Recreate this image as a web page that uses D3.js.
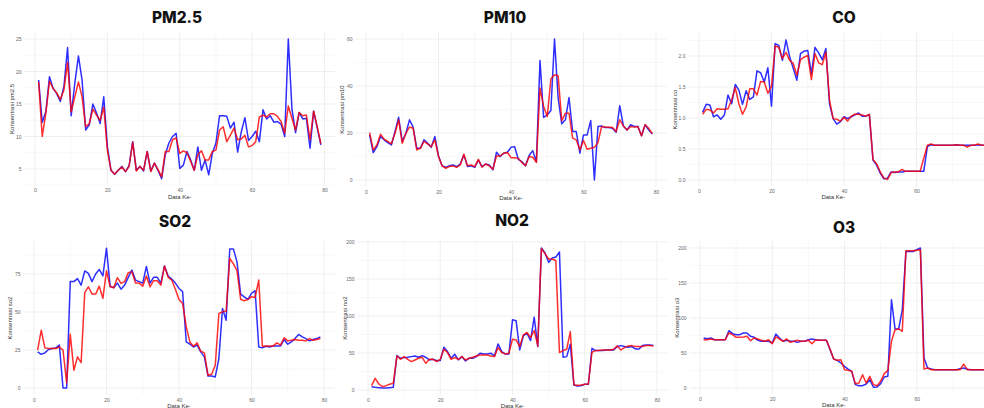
<!DOCTYPE html>
<html>
<head>
<meta charset="utf-8">
<script src="https://cdn.jsdelivr.net/npm/d3@7"></script>
<style>
  body { margin: 0; background: #fff; }
  svg { display: block; font-family: "Liberation Sans", Arial, sans-serif; }
</style>
</head>
<body>
<svg id="chart" width="984" height="408"></svg>
<script>
// data ke- (index of observation)
const dataKe = d3.range(1, 80);

// blue = aktual, red = prediksi
const pm25Aktual = [18.7,12.2,13.8,19.2,17.4,16.6,15.4,17.7,23.7,13.2, 18.2,22.4,18.7,11.0,11.8,15.0,13.6,12.0,16.1,8.4, 4.8,4.2,4.8,5.4,4.6,5.5,9.2,4.8,5.4,4.7, 7.7,4.7,5.9,4.8,3.5,7.2,9.0,10.0,10.5,5.1, 5.6,7.7,6.4,4.8,8.4,4.8,6.4,4.1,7.4,9.0, 13.2,13.2,13.1,11.3,12.2,7.6,10.7,12.9,9.4,10.0, 10.8,9.2,14.1,12.7,13.2,12.2,12.3,11.9,10.0,25.0, 14.3,10.6,13.7,12.7,12.8,8.2,13.9,11.3,8.7];
const pm25Prediksi = [18.4,10.0,13.6,18.5,17.4,16.7,15.7,17.2,21.4,13.8, 16.1,18.4,16.1,11.5,12.0,14.2,13.3,12.5,14.5,7.9, 4.8,4.2,4.8,5.3,4.6,5.4,9.1,4.7,5.4,4.8, 7.7,4.6,5.9,4.9,3.8,7.7,7.7,9.5,9.8,7.4, 7.8,7.5,6.2,4.8,7.2,7.8,6.4,6.4,7.7,7.9, 11.0,11.5,9.2,10.2,11.3,9.5,9.6,10.2,8.4,8.6, 9.2,13.0,13.3,13.0,13.5,13.5,13.1,12.3,10.5,14.7, 12.8,11.0,13.7,13.2,13.3,9.5,13.9,11.5,8.9];

const pm10Aktual = [19.2,11.7,14.2,18.5,17.1,15.9,14.9,20.6,26.7,16.4, 19.9,25.6,22.5,13.5,13.5,17.1,15.6,13.9,18.5,10.2, 6.1,5.4,6.1,6.4,5.7,6.8,10.7,5.7,6.0,5.4, 8.5,5.7,6.8,6.4,4.3,11.8,10.0,11.4,11.8,13.9, 14.2,8.8,7.8,6.1,10.4,12.5,7.8,50.9,26.6,27.7, 29.6,60.0,34.9,23.9,25.6,35.1,20.6,20.6,11.4,19.2, 19.2,25.3,0.0,22.8,23.0,22.3,22.3,22.0,20.3,31.6, 23.0,21.3,23.5,22.8,22.8,18.8,23.5,21.3,19.6];
const pm10Prediksi = [20.2,12.8,14.9,19.5,17.4,16.4,15.4,19.9,25.6,15.6, 19.9,22.5,22.0,12.8,13.5,16.4,15.4,14.2,17.1,10.0, 6.0,5.0,5.7,6.0,5.4,6.4,11.0,6.1,6.4,5.7, 8.8,5.4,6.8,6.0,4.6,10.2,10.2,11.4,11.7,9.5, 9.5,9.2,7.4,6.1,10.0,9.7,7.5,39.1,31.3,27.0, 43.0,44.8,44.4,25.3,28.4,28.4,17.8,17.1,12.8,16.8, 13.1,13.5,13.9,15.9,22.8,22.5,22.5,22.3,20.6,25.6, 23.0,21.3,22.8,22.5,22.8,18.8,23.5,22.0,19.6];

const coAktual = [1.09,1.22,1.21,1.02,1.05,0.98,1.05,1.37,1.23,1.54, 1.45,1.22,1.44,1.30,1.34,1.76,1.73,1.58,1.81,1.19, 2.20,2.17,1.93,2.26,1.99,1.80,1.61,2.04,2.08,2.09, 1.71,2.14,2.05,1.94,2.12,1.23,0.99,0.90,0.94,1.02, 0.99,1.02,1.05,1.08,1.03,1.03,1.05,0.32,0.24,0.11, 0.02,0.03,0.13,0.12,0.13,0.13,0.14,0.14,0.14,0.14, 0.14,0.14,0.54,0.57,0.56,0.56,0.56,0.56,0.56,0.56, 0.57,0.56,0.56,0.56,0.56,0.56,0.57,0.56,0.56];
const coPrediksi = [1.06,1.14,1.13,1.08,1.15,1.14,1.14,1.15,1.29,1.49, 1.23,1.06,1.18,1.47,1.47,1.37,1.59,1.58,1.40,1.51, 2.16,2.14,1.96,2.06,1.93,1.88,1.69,1.94,1.98,2.01, 1.62,2.04,1.89,1.86,2.06,1.29,0.99,0.98,0.95,1.01, 0.95,1.03,1.06,1.06,1.05,1.03,1.06,0.33,0.26,0.13, 0.03,0.01,0.12,0.13,0.13,0.17,0.14,0.14,0.14,0.14, 0.14,0.35,0.56,0.58,0.56,0.56,0.56,0.56,0.56,0.56, 0.57,0.56,0.56,0.53,0.56,0.56,0.58,0.56,0.56];

const so2Aktual = [23.8,22.2,23.1,25.3,26.0,26.4,28.2,0.0,0.0,70.0, 70.0,72.0,67.7,77.0,75.4,70.0,75.0,78.0,73.7,92.0, 67.0,66.0,69.0,65.0,67.7,72.8,77.6,71.0,70.0,69.0, 80.0,69.0,72.8,72.8,69.0,80.3,73.7,71.7,69.0,65.5, 63.3,30.3,28.8,27.0,28.2,23.8,20.5,7.9,7.9,7.3, 19.4,52.3,44.6,91.5,91.5,83.0,61.8,60.0,58.3,62.2, 64.0,27.0,26.4,27.5,27.0,27.7,27.7,27.7,31.9,28.8, 30.3,32.5,35.2,33.6,32.5,31.0,31.9,32.5,33.6];
const so2Prediksi = [24.9,38.0,26.4,26.0,26.0,26.0,27.0,24.9,3.3,35.4, 11.7,20.5,16.7,62.7,66.6,61.8,61.8,67.0,59.0,77.2, 66.6,66.0,72.6,68.8,70.0,75.9,76.5,69.0,69.0,67.0, 73.7,66.6,70.6,70.6,67.7,80.3,72.8,71.0,65.0,58.3, 55.6,40.2,30.3,27.5,29.7,24.2,23.1,8.4,9.0,15.0, 49.0,50.1,50.6,85.3,81.6,77.2,58.3,57.4,58.3,60.0, 59.6,71.0,27.5,27.7,27.7,27.7,29.7,28.2,33.0,31.0, 31.4,31.9,31.4,31.4,31.0,32.5,31.4,31.9,32.5];

const no2Aktual = [4.5,3.6,3.2,2.7,2.7,3.2,3.6,46.5,42.9,43.8, 44.2,45.1,46.0,44.2,46.5,44.2,40.6,41.5,39.7,39.7, 57.8,51.9,42.9,48.3,40.6,45.1,39.3,42.9,42.9,45.1, 49.7,48.8,48.8,49.7,46.0,62.3,51.9,48.8,48.8,94.8, 93.5,54.2,73.1,76.7,66.8,98.4,58.7,191.9,185.1,172.5, 178.3,179.7,186.5,44.2,45.1,61.9,6.8,5.4,5.9,7.7, 7.7,56.4,53.3,53.3,53.3,54.2,54.2,54.2,58.7,60.0, 58.7,57.8,58.7,55.5,55.5,60.0,60.9,60.9,60.0];
const no2Prediksi = [5.9,15.8,8.1,4.5,5.9,7.7,9.0,46.0,41.5,45.1, 41.5,38.4,40.6,42.9,44.2,36.1,41.5,41.5,38.4,41.5, 55.1,50.6,41.5,43.8,41.5,45.1,40.6,42.9,44.2,46.0, 47.4,47.4,47.4,46.0,45.1,57.3,50.6,48.8,49.7,68.6, 67.7,58.7,74.5,77.7,70.9,80.4,59.6,191.0,184.2,177.0, 177.0,174.7,50.6,53.3,55.1,79.0,6.8,6.3,6.8,7.7, 8.1,51.0,53.3,53.3,54.2,54.2,54.2,55.1,59.6,54.2, 57.3,59.6,60.0,58.7,58.7,58.7,60.0,60.0,59.6];

const o3Aktual = [71.4,70.5,71.4,69.0,69.0,69.0,69.0,81.9,77.6,76.2, 76.2,78.6,78.6,73.8,72.4,68.1,66.7,66.7,66.7,64.3, 77.1,71.4,66.7,68.1,66.7,66.7,65.2,66.7,66.7,69.0, 70.0,69.0,68.1,68.1,68.1,54.8,41.4,39.5,35.7,31.0, 27.1,23.8,4.8,3.3,3.3,5.7,11.9,1.0,1.4,6.2, 15.7,16.7,126.0,84.3,84.3,112.0,195.0,195.0,195.0,197.6, 200.0,42.9,28.6,27.1,26.2,26.2,26.2,26.2,26.2,26.2, 26.2,27.6,28.6,26.7,26.2,26.2,26.2,26.2,26.2];
const o3Prediksi = [69.0,69.0,70.0,69.0,69.0,69.0,69.0,78.6,76.2,72.4, 72.4,72.9,73.8,67.6,71.4,70.0,68.1,66.7,69.0,63.3, 72.9,70.0,66.7,70.0,65.2,66.7,68.1,66.7,66.7,68.1, 63.3,69.0,68.1,68.1,68.1,55.7,41.4,39.5,40.5,26.2, 25.2,23.8,6.2,7.1,19.0,7.1,16.7,4.8,3.3,9.5, 20.5,25.2,66.7,83.3,84.3,81.0,196.2,196.2,196.2,196.7, 197.6,27.1,28.6,26.2,26.2,26.2,26.2,26.2,26.2,26.2, 26.2,26.2,34.0,26.2,26.2,26.2,26.2,26.2,26.2];

const xTicks = [0, 20, 40, 60, 80];

// one entry per panel: where its scales sit in the collage
const panels = [
  {title: "PM2.5", ylab: "Konsentrasi pm2.5", aktual: pm25Aktual, prediksi: pm25Prediksi,
   xr: [35, 324.5], yd: [5, 25], yr: [169, 39], yt: [5, 10, 15, 20, 25], fmt: d3.format("d"),
   tx: 177, ty: 23},
  {title: "PM10", ylab: "Konsentrasi pm10", aktual: pm10Aktual, prediksi: pm10Prediksi,
   xr: [366, 656], yd: [0, 60], yr: [180, 39], yt: [0, 20, 40, 60], fmt: d3.format("d"),
   tx: 505, ty: 23},
  {title: "CO", ylab: "Konsentrasi co", aktual: coAktual, prediksi: coPrediksi,
   xr: [699, 989], yd: [0, 2], yr: [180, 56], yt: [0, 0.5, 1, 1.5, 2], fmt: d3.format(".1f"),
   tx: 844, ty: 23},
  {title: "SO2", ylab: "Konsentrasi so2", aktual: so2Aktual, prediksi: so2Prediksi,
   xr: [34, 324], yd: [0, 75], yr: [388, 274], yt: [0, 25, 50, 75], fmt: d3.format("d"),
   tx: 175, ty: 227},
  {title: "NO2", ylab: "Konsentrasi no2", aktual: no2Aktual, prediksi: no2Prediksi,
   xr: [368, 657], yd: [0, 200], yr: [390, 242], yt: [0, 50, 100, 150, 200], fmt: d3.format("d"),
   tx: 512, ty: 226},
  {title: "O3", ylab: "Konsentrasi o3", aktual: o3Aktual, prediksi: o3Prediksi,
   xr: [700, 989], yd: [0, 200], yr: [388, 248], yt: [0, 50, 100, 150, 200], fmt: d3.format("d"),
   tx: 844, ty: 233}
];

const svg = d3.select("#chart");

panels.forEach(function(p, idx) {
  const x = d3.scaleLinear().domain([0, 80]).range(p.xr);
  const y = d3.scaleLinear().domain(p.yd).range(p.yr);

  // ggplot style 5% expansion
  const xMin = d3.min(dataKe), xMax = d3.max(dataKe);
  const xPad = (xMax - xMin) * 0.05;
  const all = p.aktual.concat(p.prediksi);
  const yMin = d3.min(all), yMax = d3.max(all);
  const yPad = (yMax - yMin) * 0.05;

  const left = x(xMin - xPad), right = x(xMax + xPad);
  const top = y(yMax + yPad), bottom = y(yMin - yPad);

  const g = svg.append("g");

  // minor grid
  const yStep = p.yt[1] - p.yt[0];
  const yMinor = [];
  for (let v = p.yt[0] - yStep / 2; v <= p.yt[p.yt.length - 1] + yStep; v += yStep) {
    if (y(v) <= bottom && y(v) >= top) yMinor.push(v);
  }
  const xMinor = [10, 30, 50, 70, 90].filter(v => x(v) <= right);

  g.selectAll(".yminor").data(yMinor).enter().append("line")
    .attr("x1", left).attr("x2", right)
    .attr("y1", d => y(d)).attr("y2", d => y(d))
    .attr("stroke", "#f4f4f4").attr("stroke-width", 0.6);
  g.selectAll(".xminor").data(xMinor).enter().append("line")
    .attr("x1", d => x(d)).attr("x2", d => x(d))
    .attr("y1", top).attr("y2", bottom)
    .attr("stroke", "#f4f4f4").attr("stroke-width", 0.6);

  // major grid
  g.selectAll(".ymajor").data(p.yt).enter().append("line")
    .attr("x1", left).attr("x2", right)
    .attr("y1", d => y(d)).attr("y2", d => y(d))
    .attr("stroke", "#ebebeb").attr("stroke-width", 0.8);
  g.selectAll(".xmajor").data(xTicks.filter(v => x(v) <= right)).enter().append("line")
    .attr("x1", d => x(d)).attr("x2", d => x(d))
    .attr("y1", top).attr("y2", bottom)
    .attr("stroke", "#ebebeb").attr("stroke-width", 0.8);

  // axes (labels only, no ticks / domain)
  const yAxis = g.append("g")
    .attr("transform", `translate(${left},0)`)
    .call(d3.axisLeft(y).tickValues(p.yt).tickFormat(p.fmt).tickSize(0).tickPadding(3));
  const xAxis = g.append("g")
    .attr("transform", `translate(0,${bottom})`)
    .call(d3.axisBottom(x).tickValues(xTicks.filter(v => x(v) <= 984)).tickFormat(d3.format("d")).tickSize(0).tickPadding(3));
  [yAxis, xAxis].forEach(a => {
    a.select(".domain").remove();
    a.selectAll("text")
      .style("font-family", "'Liberation Sans', Arial, sans-serif")
      .style("font-size", "5px")
      .attr("fill", "#666");
  });

  // clip lines to panel
  const clipId = "clip" + idx;
  svg.append("clipPath").attr("id", clipId)
    .append("rect").attr("x", left).attr("y", top)
    .attr("width", right - left).attr("height", bottom - top);

  const line = d3.line()
    .x((d, i) => x(dataKe[i]))
    .y(d => y(d));

  g.append("path")
    .datum(p.aktual)
    .attr("clip-path", `url(#${clipId})`)
    .attr("fill", "none")
    .attr("stroke", "#0000ff")
    .attr("stroke-width", 1.5)
    .attr("stroke-linejoin", "round")
    .attr("opacity", 0.82)
    .attr("d", line);

  g.append("path")
    .datum(p.prediksi)
    .attr("clip-path", `url(#${clipId})`)
    .attr("fill", "none")
    .attr("stroke", "#ff0000")
    .attr("stroke-width", 1.5)
    .attr("stroke-linejoin", "round")
    .attr("opacity", 0.82)
    .attr("d", line);

  // titles
  g.append("text")
    .attr("x", p.tx).attr("y", p.ty)
    .attr("text-anchor", "middle")
    .style("font-family", "Inter, 'Liberation Sans', Arial, sans-serif")
    .style("font-weight", "800")
    .style("font-size", "15.5px")
    .attr("fill", "#111")
    .text(p.title);

  g.append("text")
    .attr("x", (left + Math.min(right, 984)) / 2 + (idx % 3 == 2 ? -3 : 0))
    .attr("y", bottom + 13)
    .attr("text-anchor", "middle")
    .style("font-size", "6px")
    .attr("fill", "#333")
    .text("Data Ke-");

  g.append("text")
    .attr("transform", `translate(${left - 11},${(top + bottom) / 2}) rotate(-90)`)
    .attr("text-anchor", "middle")
    .style("font-size", "6px")
    .attr("fill", "#333")
    .text(p.ylab);
});
</script>
</body>
</html>
